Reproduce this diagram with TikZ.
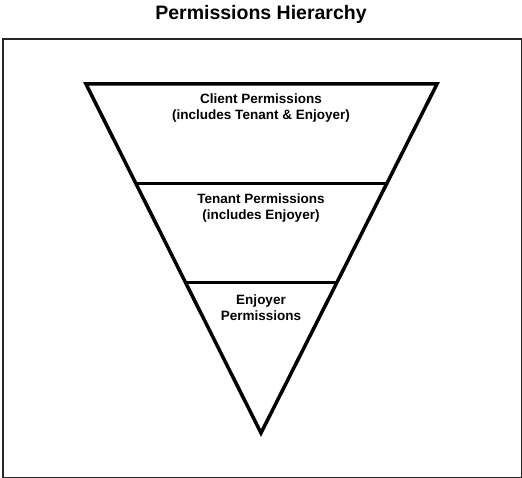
\documentclass[tikz,border=0pt]{standalone}
\usepackage{fontspec}
\setmainfont{Liberation Sans}
\usetikzlibrary{calc}
\begin{document}
\begin{tikzpicture}[x=1pt,y=-1pt,
  lbl/.style={font=\bfseries\fontsize{13.5}{16}\selectfont,align=center,inner sep=0pt},
  edge/.style={line width=3.5pt,line join=miter,line cap=butt}]
\useasboundingbox (0,0) rectangle (522,478);
\node[font=\bfseries\fontsize{19.5}{22}\selectfont,inner sep=0pt] (title) at (261,14) {Permissions Hierarchy};
\node[draw=black!85,line width=1.6pt,minimum width=518.5pt,minimum height=438.5pt,inner sep=0pt,anchor=north west] (frame) at (2,38) {};
\coordinate (A) at (86,84);
\coordinate (B) at (437,84);
\coordinate (C) at (261,433);
\draw[edge] (A) -- (B) -- (C) -- cycle;
\coordinate (L1) at ($(A)!0.2837!(C)$);
\coordinate (R1) at ($(B)!0.2837!(C)$);
\coordinate (L2) at ($(A)!0.5688!(C)$);
\coordinate (R2) at ($(B)!0.5688!(C)$);
\draw[line width=3pt] (L1) -- (R1);
\draw[line width=3pt] (L2) -- (R2);
\node[lbl] (client) at (261,108.5) {Client Permissions\\(includes Tenant \& Enjoyer)};
\node[lbl] (tenant) at (261,208) {Tenant Permissions\\(includes Enjoyer)};
\node[lbl] (enjoyer) at (261,308) {Enjoyer\\Permissions};
\end{tikzpicture}
\end{document}
